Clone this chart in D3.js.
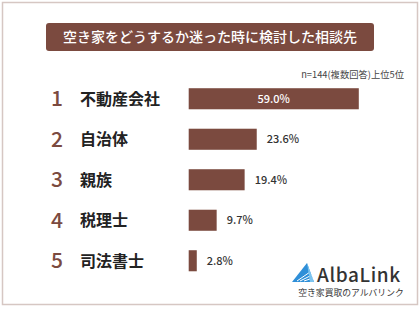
<!DOCTYPE html>
<html><head><meta charset="utf-8">
<script src="https://cdn.jsdelivr.net/npm/d3@7"></script>
<style>
html,body{margin:0;padding:0;background:#fff;}
svg text{font-family:"Noto Sans CJK JP","Noto Sans",sans-serif;}
</style></head>
<body>
<svg id="c" width="420" height="309"></svg>
<script>
const title = "空き家をどうするか迷った時に検討した相談先";
const note = "n=144(複数回答)上位5位";
const ranks = ["1","2","3","4","5"];
const categories = ["不動産会社","自治体","親族","税理士","司法書士"];
const values = [59.0, 23.6, 19.4, 9.7, 2.8];
const valueLabels = ["59.0%","23.6%","19.4%","9.7%","2.8%"];

const brown = "#7b4a3f";
const svg = d3.select("#c");

// frame
svg.append("rect").attr("x",2.5).attr("y",2.5).attr("width",415).attr("height",302)
  .attr("fill","#fff").attr("stroke","#d6c7c3").attr("stroke-width",1.5);

// title banner
svg.append("rect").attr("x",46).attr("y",23).attr("width",328).attr("height",28)
  .attr("rx",3).attr("fill",brown);
svg.append("text").attr("x",210).attr("y",42).attr("text-anchor","middle")
  .attr("fill","#fff").attr("font-size",14).attr("font-weight",500).text(title);

svg.append("text").attr("x",404).attr("y",77.5).attr("text-anchor","end")
  .attr("fill","#444").attr("font-size",9.3).text(note);

const y = d3.scaleBand().domain(categories).range([78.5, 281]).paddingInner(0.48).paddingOuter(0.24);
const x = d3.scaleLinear().domain([0, 100]).range([188.7, 188.7 + 288.3]);

const g = svg.append("g");
const rows = g.selectAll("g.row").data(categories).enter().append("g").attr("class","row");

rows.append("rect")
  .attr("x", x(0))
  .attr("y", d => y(d))
  .attr("width", (d,i) => x(values[i]) - x(0))
  .attr("height", y.bandwidth())
  .attr("fill", brown);

rows.append("text")
  .attr("x", 57).attr("y", d => y(d) + y.bandwidth()/2)
  .attr("dy","0.36em").attr("text-anchor","middle")
  .attr("fill", brown).attr("font-size", 21).attr("font-weight", 500)
  .text((d,i) => ranks[i]);

rows.append("text")
  .attr("x", 80).attr("y", d => y(d) + y.bandwidth()/2)
  .attr("dy","0.36em")
  .attr("fill", "#222").attr("font-size", 16).attr("font-weight", 700)
  .text(d => d);

rows.append("text")
  .attr("x", (d,i) => values[i] > 40 ? (x(0) + x(values[i]))/2 : x(values[i]) + 10)
  .attr("y", d => y(d) + y.bandwidth()/2)
  .attr("dy","0.36em")
  .attr("text-anchor", (d,i) => values[i] > 40 ? "middle" : "start")
  .attr("fill", (d,i) => values[i] > 40 ? "#fff" : "#333")
  .attr("font-size", 11).attr("font-weight", 500)
  .text((d,i) => valueLabels[i]);

// logo
const logo = svg.append("g").attr("transform","translate(292,263)");
logo.append("path").attr("d","M0,19 L15,0 L22,19 Z").attr("fill","#2f8fd8");
logo.append("path").attr("d","M5,18 L18,9 M8,18 L20,12 M12,18 L21,15").attr("stroke","#fff").attr("stroke-width",1);
logo.append("path").attr("d","M15,0 L22,19 L18,19 Z").attr("fill","#7cc4ef");
svg.append("text").attr("x",317).attr("y",282).attr("fill","#333")
  .attr("font-size",19).attr("font-weight",500).attr("letter-spacing",0.6)
  .attr("font-family","'Noto Sans',sans-serif").text("AlbaLink");
svg.append("text").attr("x",351).attr("y",296).attr("text-anchor","middle").attr("fill","#333")
  .attr("font-size",8.8).text("空き家買取のアルバリンク");
</script>
</body></html>
